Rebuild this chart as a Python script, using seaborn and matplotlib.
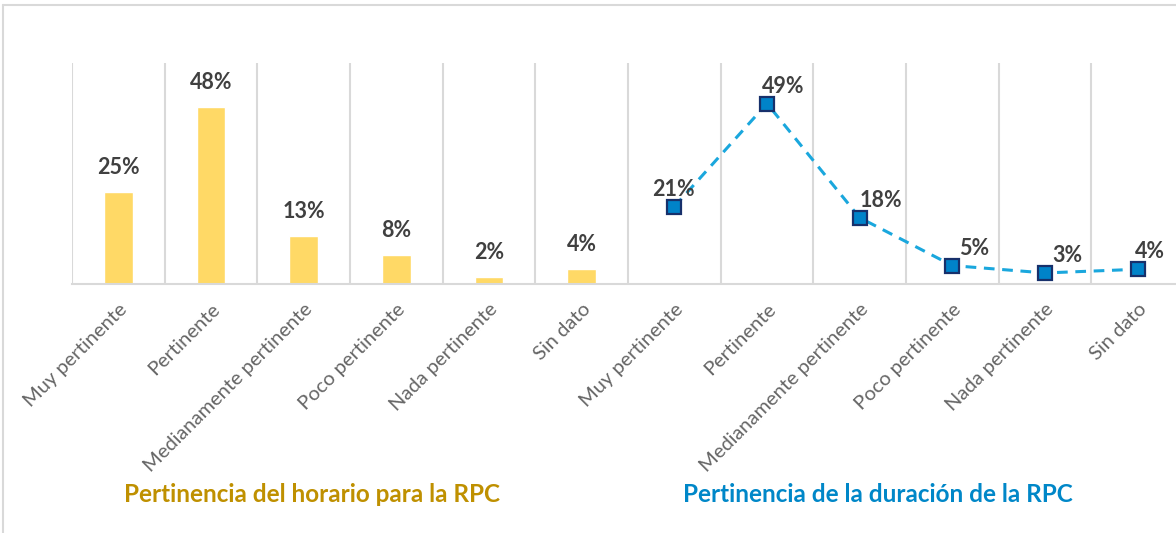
import numpy as np
import pandas as pd
import matplotlib
matplotlib.use("Agg")
import matplotlib.pyplot as plt
from matplotlib.lines import Line2D
import seaborn as sns

# datos
categorias = ["Muy pertinente", "Pertinente", "Medianamente pertinente",
              "Poco pertinente", "Nada pertinente", "Sin dato"]
horario = [25, 48, 13, 8, 2, 4]
duracion = [21, 49, 18, 5, 3, 4]
titulo_horario = "Pertinencia del horario para la RPC"
titulo_duracion = "Pertinencia de la duración de la RPC"

sns.set_style("white")
plt.rcParams["font.family"] = ["Lato", "DejaVu Sans"]

df_h = pd.DataFrame({"pos": np.arange(len(categorias)), "valor": horario})
df_d = pd.DataFrame({"pos": np.arange(len(categorias)) + len(categorias), "valor": duracion})

fig = plt.figure(figsize=(11.76, 5.33), dpi=100)
ax = fig.add_axes([72 / 1176, 249 / 533, 1112 / 1176, 221 / 533])

sns.barplot(data=df_h, x="pos", y="valor", native_scale=True, width=0.31,
            color="#FFD966", saturation=1, ax=ax)
sns.lineplot(data=df_d, x="pos", y="valor", ax=ax, color="#1AA7DD",
             linestyle=(0, (3.5, 2.5)), linewidth=2.2, marker="s", markersize=10,
             markerfacecolor="#0083C9", markeredgecolor="#17306B", markeredgewidth=1.6)

# etiquetas de datos
for x, v in zip(df_h["pos"], horario):
    ax.annotate(f"{v}%", (x, v), xytext=(0, 10), textcoords="offset points",
                ha="center", va="bottom", fontsize=15.5, fontweight="bold", color="#404040")
desp = [-1, 12, 15, 16, 16, 9]
for x, v, dx in zip(df_d["pos"], duracion, desp):
    ax.annotate(f"{v}%", (x, v), xytext=(dx, 5), textcoords="offset points",
                ha="center", va="bottom", fontsize=15.5, fontweight="bold", color="#404040")

n = 2 * len(categorias)
ax.set_xlim(-0.5, n - 0.5)
ax.set_ylim(0, 60)
ax.set_xticks(np.arange(n))
ax.set_xticklabels(categorias * 2, rotation=45, ha="right", rotation_mode="anchor",
                   fontsize=14.5, color="#666666")
ax.set_xticks(np.arange(n + 1) - 0.5, minor=True)
ax.tick_params(axis="x", which="both", length=0, pad=12)
ax.grid(axis="x", which="minor", color="#D9D9D9", linewidth=1.5)
ax.grid(axis="x", which="major", visible=False)
ax.set_yticks([])
ax.set_xlabel("")
ax.set_ylabel("")
for s in ["top", "right", "left"]:
    ax.spines[s].set_visible(False)
ax.spines["bottom"].set_color("#D9D9D9")
ax.spines["bottom"].set_linewidth(1.5)

fig.text(312 / 1176, 1 - 495 / 533, titulo_horario, ha="center", va="center",
         fontsize=17.5, fontweight="bold", color="#BF9000")
fig.text(878 / 1176, 1 - 495 / 533, titulo_duracion, ha="center", va="center",
         fontsize=17.5, fontweight="bold", color="#0087C8")

# borde del grafico
fig.add_artist(Line2D([3 / 1176, 1], [1 - 5 / 533, 1 - 5 / 533], color="#D9D9D9", linewidth=1.5))
fig.add_artist(Line2D([3 / 1176, 3 / 1176], [0, 1 - 5 / 533], color="#D9D9D9", linewidth=1.5))

fig.savefig("out.png", dpi=100)
